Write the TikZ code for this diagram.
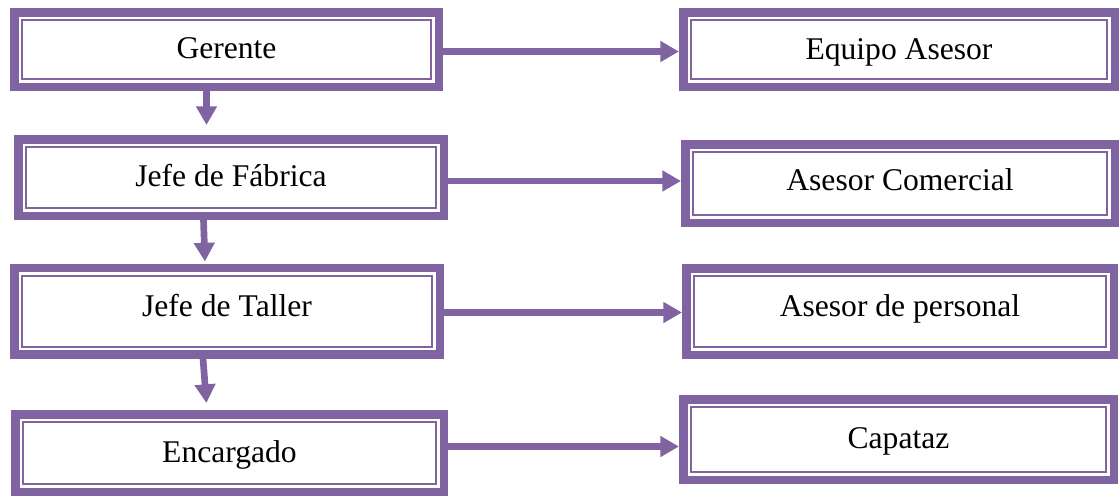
\documentclass[tikz,border=0pt]{standalone}
\usepackage{fontspec}
\setmainfont{Liberation Serif}
\usetikzlibrary{arrows.meta,calc}
\definecolor{orgpurple}{HTML}{8064A2}
\begin{document}
\begin{tikzpicture}[x=0.75pt,y=-0.75pt,
  box/.style 2 args={draw=orgpurple, line width=6.375pt, outer sep=3.1875pt,
    fill=white, inner sep=0pt,
    minimum width={(#1-8.5)*0.75pt}, minimum height={(#2-8.5)*0.75pt},
    font=\fontsize{23.7}{28}\selectfont, text height=15.7pt, text depth=0pt},
  innerline/.style={draw=orgpurple, line width=1.5pt},
  arr/.style={draw=orgpurple, line width=5pt, -{Triangle[length=14pt,width=15pt]}}]
\useasboundingbox (0,0) rectangle (1120,496);
% boxes
\node[box={433}{83}] (ger) at (226.5,49.5) {\raisebox{1.1pt}{Gerente}};
\node[box={440}{83}] (equ) at (899,49.5) {\raisebox{0pt}{Equipo Asesor}};
\node[box={434}{85}] (jfa) at (231,177.5) {\raisebox{1.1pt}{Jefe de Fábrica}};
\node[box={438}{87}] (com) at (900,183.5) {\raisebox{2.3pt}{Asesor Comercial}};
\node[box={434}{95}] (jta) at (227,311) {\raisebox{3.8pt}{Jefe de Taller}};
\node[box={436}{95}] (per) at (900,311.5) {\raisebox{4.1pt}{Asesor de personal}};
\node[box={437}{86}] (enc) at (229.5,453) {\raisebox{0.4pt}{Encargado}};
\node[box={439}{89}] (cap) at (898.5,439.5) {\raisebox{1.1pt}{Capataz}};
% inner thin frames
\foreach \n in {ger,equ,jfa,com,jta,per,enc,cap}
  \draw[innerline] ($(\n.north west)+(9pt,-9pt)$) rectangle ($(\n.south east)+(-9pt,9pt)$);
% horizontal connectors
\draw[arr] ($(ger.east)+(0,2)$) -- ($(ger.east -| equ.west)+(0,2)$);
\draw[arr] ($(jfa.east)+(0,3.5)$) -- ($(jfa.east -| com.west)+(0,3.5)$);
\draw[arr] ($(jta.east)+(0,1.5)$) -- ($(jta.east -| per.west)+(0,1.5)$);
\draw[arr] ($(enc.east)+(0,-6.5)$) -- ($(enc.east -| cap.west)+(0,-6.5)$);
% vertical connectors
\draw[arr, shorten >=7.5pt] (ger.south -| 206.5,0) -- (jfa.north -| 206.5,0);
\draw[arr, shorten >=1.5pt] (jfa.south -| 203.5,0) -- (jta.north -| 205,0);
\draw[arr, shorten >=5.25pt] (jta.south -| 203,0) -- (enc.north -| 207,0);
\end{tikzpicture}
\end{document}
